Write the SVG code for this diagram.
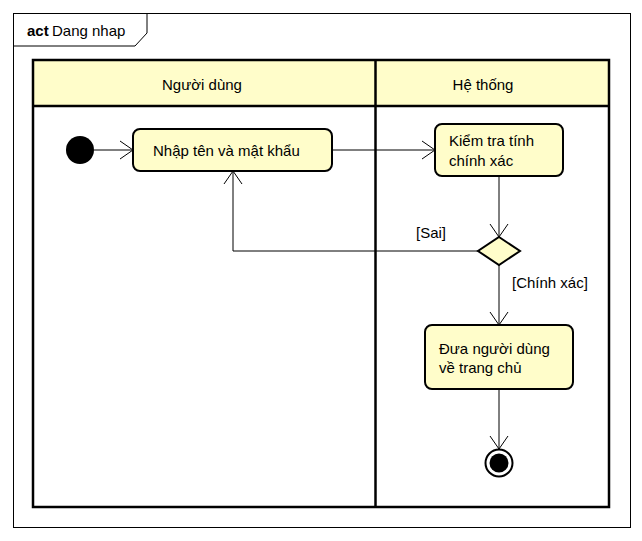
<svg xmlns="http://www.w3.org/2000/svg" width="642" height="541" viewBox="0 0 642 541">
<style>
text{font-family:"Liberation Sans",Arial,sans-serif;font-size:15px;fill:#000}
.act{fill:#FFFDCA;stroke:#000;stroke-width:2}
.lane{fill:none;stroke:#000;stroke-width:2.5}
.hdr{fill:#FFFDCA;stroke:none}
.edge{fill:none;stroke:#000;stroke-width:1}
</style>
<defs>
<marker id="arr" viewBox="0 0 14 20" refX="13" refY="10" markerWidth="14" markerHeight="20" markerUnits="userSpaceOnUse" orient="auto">
<path d="M0,1 L13,10 L0,19" fill="none" stroke="#000" stroke-width="1"/>
</marker>
</defs>
<rect width="642" height="541" fill="#fff"/>
<g id="frame">
<rect x="13.5" y="13.5" width="617" height="514" fill="none" stroke="#000" stroke-width="1"/>
<path d="M13.5,46 H135 L147,33 V13.5" fill="none" stroke="#000" stroke-width="1"/>
<text x="27" y="36" font-weight="bold">act</text>
<text x="52" y="36">Dang nhap</text>
</g>
<g id="lanes">
<rect class="hdr" x="33" y="60" width="576" height="46"/>
<rect class="lane" x="33" y="60" width="576" height="447"/>
<line class="lane" x1="33" y1="106" x2="609" y2="106"/>
<line class="lane" x1="375.5" y1="60" x2="375.5" y2="507"/>
<text x="202" y="90" text-anchor="middle">Người dùng</text>
<text x="483" y="90" text-anchor="middle">Hệ thống</text>
</g>
<g id="connectors">
<line class="edge" x1="94" y1="150" x2="133" y2="150" marker-end="url(#arr)"/>
<line class="edge" x1="332" y1="150" x2="435" y2="150" marker-end="url(#arr)"/>
<line class="edge" x1="499" y1="176" x2="499" y2="237" marker-end="url(#arr)"/>
<polyline class="edge" points="478,251 233,251 233,171" marker-end="url(#arr)"/>
<line class="edge" x1="499" y1="265" x2="499" y2="325" marker-end="url(#arr)"/>
<line class="edge" x1="499" y1="389" x2="499" y2="449" marker-end="url(#arr)"/>
<text x="416" y="238">[Sai]</text>
<text x="512" y="288">[Chính xác]</text>
</g>
<g id="start">
<circle cx="80" cy="150" r="14" fill="#000"/>
</g>
<g id="nhap">
<rect class="act" x="133" y="129" width="199" height="42" rx="7"/>
<text x="153" y="156">Nhập tên và mật khẩu</text>
</g>
<g id="kiemtra">
<rect class="act" x="435" y="124" width="128" height="52" rx="7"/>
<text x="449" y="146">Kiểm tra tính</text>
<text x="449" y="166">chính xác</text>
</g>
<g id="decision">
<polygon points="499,237 520,251 499,265 478,251" fill="#FFFDCA" stroke="#000" stroke-width="2"/>
</g>
<g id="duave">
<rect class="act" x="425" y="325" width="148" height="64" rx="7"/>
<text x="439" y="354">Đưa người dùng</text>
<text x="439" y="373">về trang chủ</text>
</g>
<g id="end">
<circle cx="499" cy="463" r="13.5" fill="#fff" stroke="#000" stroke-width="2"/>
<circle cx="499" cy="463" r="9.5" fill="#000"/>
</g>
</svg>
